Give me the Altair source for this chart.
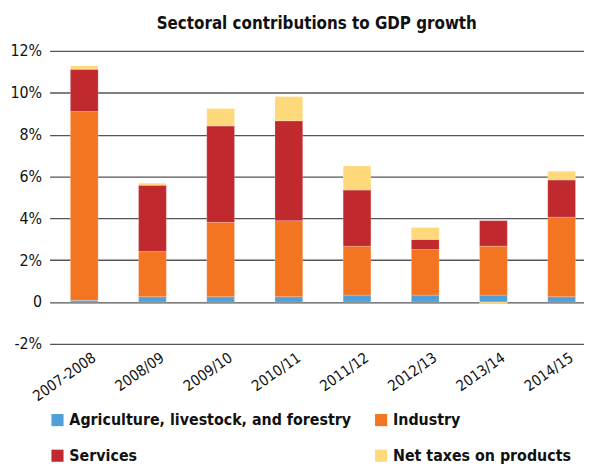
import altair as alt
import pandas as pd

years = ["2007-2008", "2008/09", "2009/10", "2010/11", "2011/12", "2012/13", "2013/14", "2014/15"]
agriculture = [0.08, 0.25, 0.25, 0.25, 0.33, 0.33, 0.33, 0.25]
industry = [9.03, 2.17, 3.56, 3.64, 2.34, 2.18, 2.34, 3.81]
services = [2.01, 3.16, 4.60, 4.77, 2.68, 0.48, 1.22, 1.77]
net_taxes = [0.17, 0.10, 0.84, 1.16, 1.15, 0.57, -0.08, 0.42]

sectors = ["Agriculture, livestock, and forestry", "Industry", "Services", "Net taxes on products"]
colors = ["#4f9fd8", "#f47521", "#c0292d", "#fed97c"]

rows = []
for i, y in enumerate(years):
    for k, (s, vals) in enumerate(zip(sectors, [agriculture, industry, services, net_taxes])):
        rows.append({"year": y, "sector": s, "value": vals[i], "order": k})
df = pd.DataFrame(rows)

FONT = "DejaVu Sans Condensed"

chart = alt.Chart(df).mark_bar(stroke="white", strokeOpacity=0.35, strokeWidth=0.6).encode(
    x=alt.X("year:N", sort=years, title=None,
            scale=alt.Scale(paddingInner=0.593, paddingOuter=0.215, align=0.71),
            axis=alt.Axis(labelAngle=-35, labelFontSize=15, labelFont=FONT, labelColor="#111",
                          domain=False, ticks=False, grid=False, labelPadding=6, labelOffset=6,
                          labelAlign="right", labelBaseline="top")),
    y=alt.Y("value:Q", title=None, stack="zero",
            scale=alt.Scale(domain=[-2, 12], nice=False),
            axis=alt.Axis(values=[-2, 0, 2, 4, 6, 8, 10, 12], labelFontSize=16, labelFont=FONT,
                          labelColor="#111", labelExpr="datum.value == 0 ? '0' : datum.value + '%'",
                          domain=False, ticks=False, gridColor="#555", gridWidth=1.3,
                          labelPadding=8)),
    color=alt.Color("sector:N", sort=sectors, scale=alt.Scale(domain=sectors, range=colors),
                    legend=alt.Legend(title=None, orient="bottom", columns=2, direction="horizontal",
                                      labelFontSize=16, labelFont=FONT, labelFontWeight="bold",
                                      labelColor="#111", symbolType="square", symbolSize=150,
                                      symbolStrokeWidth=0, columnPadding=22, rowPadding=20,
                                      labelLimit=400, offset=8)),
    order=alt.Order("order:Q"),
).properties(
    width=540, height=296,
    title=alt.TitleParams("Sectoral contributions to GDP growth", fontSize=17, font=FONT,
                          fontWeight="bold", color="#111", anchor="middle", offset=10),
    padding={"left": 2, "top": 5, "right": 0, "bottom": 0},
).configure_view(stroke=None)

chart.save("out.html", embed_options={"renderer": "svg", "actions": False})
